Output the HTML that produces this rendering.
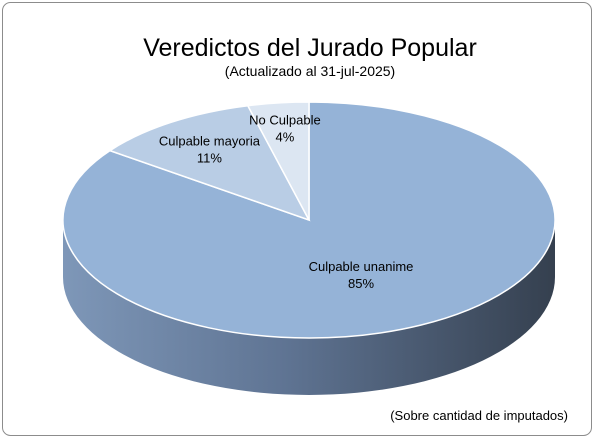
<!DOCTYPE html>
<html><head><meta charset="utf-8"><style>
html,body{margin:0;padding:0;background:#fff;}
svg{display:block;font-family:"Liberation Sans",sans-serif;}
</style></head><body>
<svg width="601" height="441" viewBox="0 0 601 441">
<defs>
<linearGradient id="sideGrad" x1="0" x2="1" y1="0" y2="0">
<stop offset="0" stop-color="#7e97b8"/><stop offset="0.45" stop-color="#5f7493"/><stop offset="1" stop-color="#35404f"/>
</linearGradient>
</defs>
<rect x="2.5" y="2.5" width="589" height="433" rx="8" fill="#fff" stroke="#8c8c8c" stroke-width="1"/>
<text x="310" y="56" text-anchor="middle" font-size="25" fill="#000">Veredictos del Jurado Popular</text>
<text x="310" y="76" text-anchor="middle" font-size="14" fill="#000">(Actualizado al 31-jul-2025)</text>
<g id="pie"></g>
<text x="568" y="420" text-anchor="end" font-size="13" fill="#000">(Sobre cantidad de imputados)</text>
</svg>
<script>
const categories = ["Culpable unanime", "Culpable mayoria", "No Culpable"];
const values = [85, 11, 4];
const colors = ["#95b3d7", "#b9cde5", "#dce6f2"];
const cx = 309, cy = 220, rx = 246, ry = 118, depth = 57;
const NS = "http://www.w3.org/2000/svg";
const g = document.getElementById("pie");
function pt(a){ return [cx + rx*Math.sin(a), cy - ry*Math.cos(a)]; }
// side
const side = document.createElementNS(NS,"path");


side.setAttribute("d", `M${cx-rx},${cy} L${cx-rx},${cy+depth} A${rx},${ry} 0 0 0 ${cx+rx},${cy+depth} L${cx+rx},${cy} A${rx},${ry} 0 0 1 ${cx-rx},${cy} Z`);
side.setAttribute("fill","url(#sideGrad)");
g.appendChild(side);
const total = values.reduce((a,b)=>a+b,0);
let start = 0;
const labelPos = [];
values.forEach((v,i)=>{
  const sweep = v/total*2*Math.PI;
  const a0 = start, a1 = start + sweep;
  const p0 = pt(a0), p1 = pt(a1);
  const large = sweep > Math.PI ? 1 : 0;
  const p = document.createElementNS(NS,"path");
  
  
  p.setAttribute("d", `M${cx},${cy} L${p0[0]},${p0[1]} A${rx},${ry} 0 ${large} 1 ${p1[0]},${p1[1]} Z`);
  p.setAttribute("fill", colors[i]);
  p.setAttribute("stroke", "#fff");
  p.setAttribute("stroke-width", "1.5");
  g.appendChild(p);
  const mid = (a0+a1)/2;
  const f = v/total > 0.5 ? 0.45 : (v/total > 0.08 ? 0.72 : 0.78);
  labelPos.push([cx + rx*f*Math.sin(mid), cy - ry*f*Math.cos(mid)]);
  start = a1;
});
values.forEach((v,i)=>{
  let [x,y] = labelPos[i];
  if (i===0){ y = cy + 55; x = cx + 52; }
  const t = document.createElementNS(NS,"text");
  
  
  t.setAttribute("x", x); t.setAttribute("y", y-4);
  t.setAttribute("text-anchor","middle"); t.setAttribute("font-size","13");
  t.textContent = categories[i];
  g.appendChild(t);
  const t2 = document.createElementNS(NS,"text");
  
  
  t2.setAttribute("x", x); t2.setAttribute("y", y+13);
  t2.setAttribute("text-anchor","middle"); t2.setAttribute("font-size","13");
  t2.textContent = Math.round(v/total*100) + "%";
  g.appendChild(t2);
});
</script>
</body></html>
